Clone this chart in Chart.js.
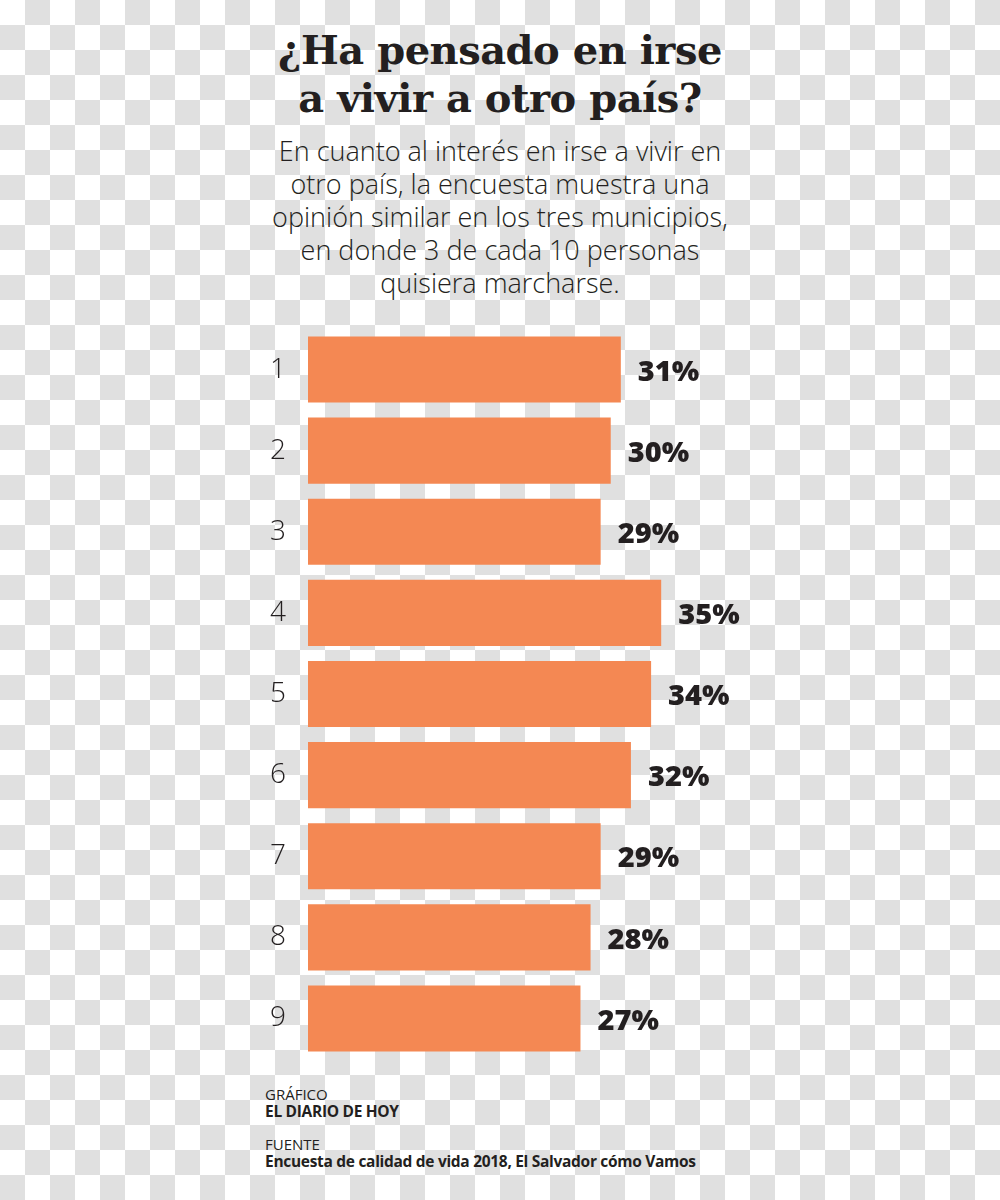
<!DOCTYPE html>
<html>
<head>
<meta charset="utf-8">
<script src="https://cdn.jsdelivr.net/npm/chart.js@4.4.0/dist/chart.umd.min.js"></script>
<style>
  html, body {
    margin: 0;
    width: 1000px;
    height: 1200px;
    background: repeating-conic-gradient(#e0e0e0 0 25%, #ffffff 0 50%) 0 0 / 50px 50px;
    color: #231f20;
    font-family: "Open Sans", sans-serif;
    position: relative;
    overflow: hidden;
  }
  .title {
    position: absolute;
    left: 0; width: 1000px; top: 26px;
    text-align: center;
    font-family: "DejaVu Serif", serif;
    font-weight: bold;
    font-size: 40px;
    line-height: 48px;
    letter-spacing: -0.5px;
  }
  .sub {
    position: absolute;
    left: 0; width: 1000px; top: 134px;
    text-align: center;
    font-weight: 300;
    font-size: 27px;
    line-height: 33px;
  }
  #chart {
    position: absolute;
    left: 250px; top: 329px;
  }
  .foot {
    position: absolute;
    left: 265px;
    font-size: 15px;
    line-height: 17px;
  }
  .foot b { font-weight: 700; font-size: 15.5px; letter-spacing: -0.3px; }
</style>
</head>
<body>
<div class="title">¿Ha pensado en irse<br>a vivir a otro país?</div>
<div class="sub">En cuanto al interés en irse a vivir en<br>otro país, la encuesta muestra una<br>opinión similar en los tres municipios,<br>en donde 3 de cada 10 personas<br>quisiera marcharse.</div>
<canvas id="chart" width="500" height="730"></canvas>
<div class="foot" style="top:1086px">GRÁFICO<br><b>EL DIARIO DE HOY</b></div>
<div class="foot" style="top:1136px">FUENTE<br><b>Encuesta de calidad de vida 2018, El Salvador cómo Vamos</b></div>
<script>
const categories = ["1", "2", "3", "4", "5", "6", "7", "8", "9"];
const percentages = [31, 30, 29, 35, 34, 32, 29, 28, 27];
const valueLabels = ["31%", "30%", "29%", "35%", "34%", "32%", "29%", "28%", "27%"];

// draws the bold percentage next to each bar
const valueLabelPlugin = {
  id: "valueLabels",
  afterDatasetsDraw(chart) {
    const ctx = chart.ctx;
    const meta = chart.getDatasetMeta(0);
    ctx.save();
    ctx.font = "800 29px 'Open Sans', sans-serif";
    ctx.fillStyle = "#231f20";
    ctx.textAlign = "left";
    ctx.textBaseline = "middle";
    meta.data.forEach((bar, i) => {
      ctx.fillText(valueLabels[i], bar.x + 17, bar.y + 3);
    });
    ctx.restore();
  }
};

new Chart(document.getElementById("chart").getContext("2d"), {
  type: "bar",
  data: {
    labels: categories,
    datasets: [{
      data: percentages,
      backgroundColor: "#f48853",
      borderWidth: 0,
      barPercentage: 0.815,
      categoryPercentage: 1
    }]
  },
  options: {
    indexAxis: "y",
    responsive: false,
    animation: false,
    layout: { padding: 0, autoPadding: false },
    plugins: {
      legend: { display: false },
      tooltip: { enabled: false }
    },
    scales: {
      x: {
        display: false,
        min: 0,
        max: 43.8
      },
      y: {
        grid: { display: false },
        border: { display: false },
        afterFit(scale) {
          scale.width = 58;
          scale.paddingTop = 0;
          scale.paddingBottom = 0;
        },
        ticks: {
          color: "#231f20",
          padding: 14,
          font: { family: "'Open Sans', sans-serif", size: 28, weight: 300 }
        }
      }
    }
  },
  plugins: [valueLabelPlugin]
});
</script>
</body>
</html>
